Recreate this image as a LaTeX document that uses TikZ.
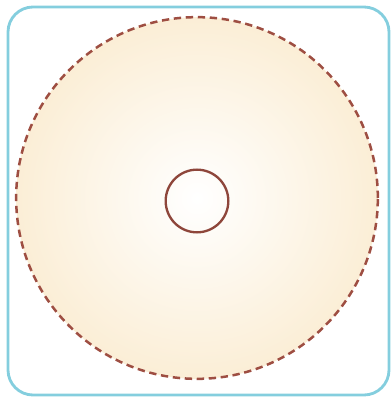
\documentclass[tikz,border=0pt]{standalone}
\usepackage{tikz}
\usetikzlibrary{shapes,positioning,calc,backgrounds}
\usepackage{xcolor}
\definecolor{framecyan}{RGB}{132,206,222}
\definecolor{rimbrown}{RGB}{158,78,66}
\definecolor{creamedge}{RGB}{251,238,214}

\begin{document}
\begin{tikzpicture}[x=0.03cm, y=-0.03cm, line width=0.8pt]
        \useasboundingbox (0,0) rectangle (391,400);
        \draw[framecyan, line width=0.85mm, rounded corners=0.75cm] (8,7) rectangle (389,395);

        \node[circle, minimum size=10.85cm, inner sep=0pt, draw=rimbrown, line width=0.75mm, dash pattern=on 2.2mm off 1.4mm, inner color=white, outer color=creamedge] (disc) at (197,198) {};
        \node[circle, minimum size=1.88cm, inner sep=0pt, draw=rimbrown!90!black, line width=0.7mm] (hole) at (197,201) {};
    \end{tikzpicture}
\end{document}
